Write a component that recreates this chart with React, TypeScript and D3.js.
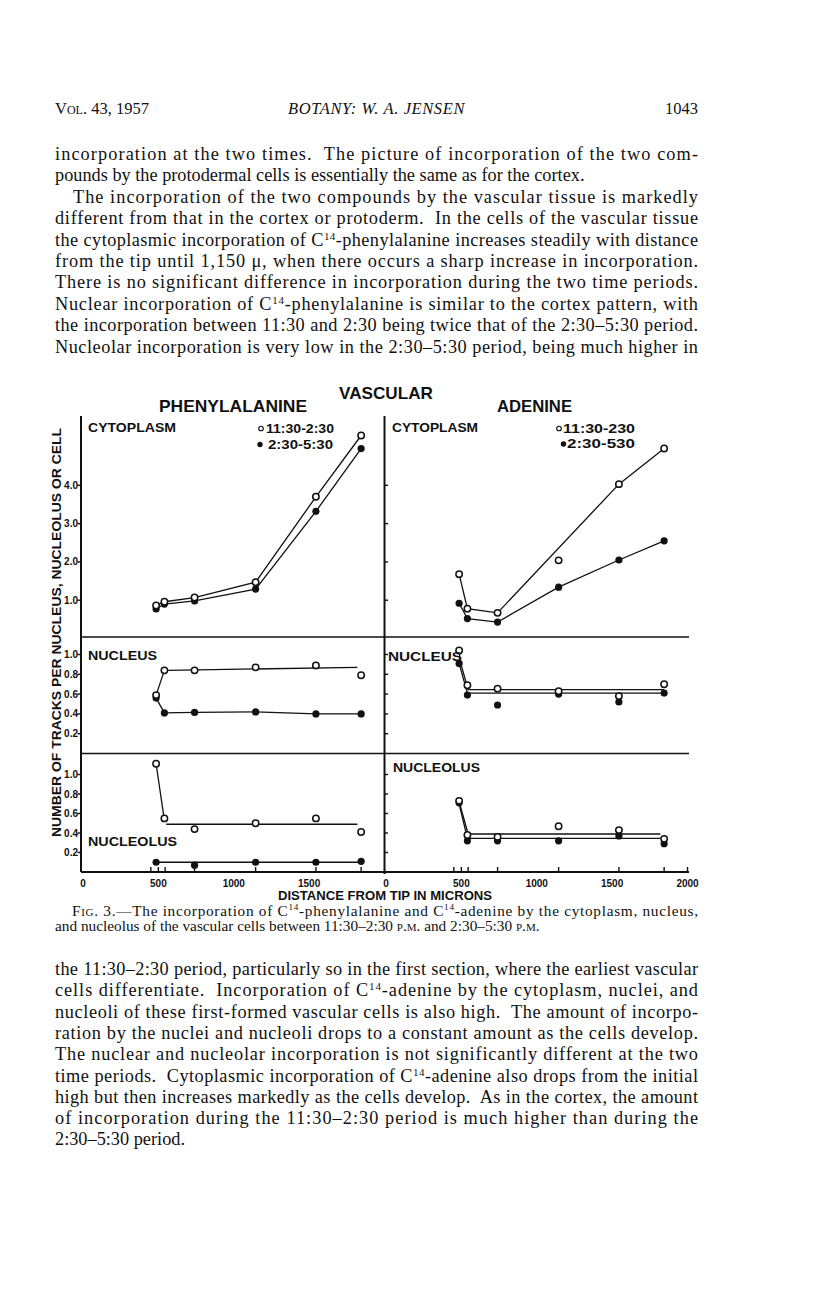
import React from "react";
import * as d3 from "d3";

const W = 816;
const H = 1294;

// sample distances from the tip (microns)
const distances = [485, 540, 740, 1145, 1545, 1845];
const lateNucleolusDist = [485, 740, 1145, 1545, 1845];
const axisTicks = [450, 500, 545, 740, 1145, 1545, 1845];
const xLabelsLeft = [0, 500, 1000, 1500];
const xLabelsRight = [0, 500, 1000, 1500, 2000];
const cytoTicks = [1, 2, 3, 4];
const fracTicks = [0.2, 0.4, 0.6, 0.8, 1.0];

// phenylalanine, 11:30-2:30 (open) and 2:30-5:30 (filled)
const pheCytoEarly = [0.86, 0.96, 1.07, 1.47, 3.7, 5.3];
const pheCytoLate = [0.77, 0.9, 0.98, 1.29, 3.32, 4.96];
const pheNucEarly = [0.59, 0.84, 0.84, 0.87, 0.89, 0.79];
const pheNucLate = [0.56, 0.41, 0.415, 0.42, 0.4, 0.4];
const pheNuclEarly = [1.11, 0.55, 0.44, 0.5, 0.55, 0.41];
const pheNuclLate = [0.1, 0.07, 0.1, 0.1, 0.11];

// adenine
const adeCytoEarly = [1.68, 0.78, 0.67, 2.04, 4.03, 4.96];
const adeCytoLate = [0.92, 0.52, 0.43, 1.34, 2.05, 2.55];
const adeNucEarly = [1.04, 0.69, 0.655, 0.63, 0.58, 0.7];
const adeNucLate = [0.91, 0.59, 0.49, 0.6, 0.52, 0.61];
const adeNuclEarly = [0.73, 0.38, 0.36, 0.47, 0.43, 0.34];
const adeNuclLate = [0.71, 0.32, 0.32, 0.32, 0.37, 0.29];

// hand-drawn lines that do not go through every point
const pheNucEarlyLine = [[[485, 0.59], [540, 0.84]], [[565, 0.84], [1820, 0.87]]];
const pheNuclEarlyLine = [[[485, 1.11], [535, 0.58]], [[552, 0.49], [1820, 0.49]]];
const pheNuclLateLine = [[[485, 0.1], [1845, 0.1]]];
const adeCytoEarlyLine = [[[485, 1.68], [540, 0.78], [740, 0.67], [1545, 4.03], [1845, 4.96]]];
const adeNucEarlyLine = [[[485, 1.04], [492, 0.93], [545, 0.645], [1845, 0.645]]];
const adeNucLateLine = [[[485, 0.91], [540, 0.61], [1845, 0.61]]];
const adeNuclEarlyLine = [[[485, 0.72], [545, 0.39], [1820, 0.39]]];
const adeNuclLateLine = [[[485, 0.7], [540, 0.345], [1820, 0.345]]];

const zip = (xs, ys) => xs.map((x, i) => [x, ys[i]]);

const bodyTop = [
  ["incorporation at the two times.  The picture of incorporation of the two com-", true, 0],
  ["pounds by the protodermal cells is essentially the same as for the cortex.", false, 0],
  ["The incorporation of the two compounds by the vascular tissue is markedly", true, 18],
  ["different from that in the cortex or protoderm.  In the cells of the vascular tissue", true, 0],
  ["the cytoplasmic incorporation of C^14-phenylalanine increases steadily with distance", true, 0],
  ["from the tip until 1,150 \u03bc, when there occurs a sharp increase in incorporation.", true, 0],
  ["There is no significant difference in incorporation during the two time periods.", true, 0],
  ["Nuclear incorporation of C^14-phenylalanine is similar to the cortex pattern, with", true, 0],
  ["the incorporation between 11:30 and 2:30 being twice that of the 2:30\u20135:30 period.", true, 0],
  ["Nucleolar incorporation is very low in the 2:30\u20135:30 period, being much higher in", true, 0],
];

const bodyBottom = [
  ["the 11:30\u20132:30 period, particularly so in the first section, where the earliest vascular", true, 0],
  ["cells differentiate.  Incorporation of C^14-adenine by the cytoplasm, nuclei, and", true, 0],
  ["nucleoli of these first-formed vascular cells is also high.  The amount of incorpo-", true, 0],
  ["ration by the nuclei and nucleoli drops to a constant amount as the cells develop.", true, 0],
  ["The nuclear and nucleolar incorporation is not significantly different at the two", true, 0],
  ["time periods.  Cytoplasmic incorporation of C^14-adenine also drops from the initial", true, 0],
  ["high but then increases markedly as the cells develop.  As in the cortex, the amount", true, 0],
  ["of incorporation during the 11:30\u20132:30 period is much higher than during the", true, 0],
  ["2:30\u20135:30 period.", false, 0],
];

const caption = [
  ["{Fig.} 3.\u2014The incorporation of C^14-phenylalanine and C^14-adenine by the cytoplasm, nucleus,", true, 17],
  ["and nucleolus of the vascular cells between 11:30\u20132:30 {p.m.} and 2:30\u20135:30 {p.m.}", false, 0],
];

const TEXT_L = 55;
const TEXT_R = 698;

// turns "^14" into a superscript and "{..}" into small caps
function rich(str, k) {
  const out = [];
  const re = /(\^14|\{[^}]+\})/g;
  let last = 0;
  let m;
  let n = 0;
  let pendingDy = 0;
  while ((m = re.exec(str))) {
    if (m.index > last) {
      out.push(<tspan key={k + n++} dy={pendingDy || undefined}>{str.slice(last, m.index)}</tspan>);
      pendingDy = 0;
    }
    if (m[0] === "^14") {
      out.push(<tspan key={k + n++} dy={-6} fontSize="0.6em">14</tspan>);
      pendingDy = 6;
    } else {
      out.push(
        <tspan key={k + n++} dy={pendingDy || undefined} style={{ fontVariant: "small-caps" }}>
          {m[0].slice(1, -1)}
        </tspan>
      );
      pendingDy = 0;
    }
    last = m.index + m[0].length;
  }
  if (last < str.length) out.push(<tspan key={k + n++} dy={pendingDy || undefined}>{str.slice(last)}</tspan>);
  return out;
}

function Paragraph({ lines, y0, step, size }) {
  return (
    <g fontFamily="'Liberation Serif', serif" fontSize={size} fill="#111">
      {lines.map(([t, justify, indent], i) => (
        <text
          key={i}
          x={TEXT_L + indent}
          y={y0 + i * step}
          textLength={justify ? TEXT_R - TEXT_L - indent : undefined}
          lengthAdjust="spacing"
          xmlSpace="preserve"
        >
          {rich(t, "l" + i)}
        </text>
      ))}
    </g>
  );
}

const cols = [
  { x: d3.scaleLinear().domain([0, 2000]).range([83, 384.5]), labels: xLabelsLeft },
  { x: d3.scaleLinear().domain([0, 2000]).range([386, 687.5]), labels: xLabelsRight },
];
const rows = [
  d3.scaleLinear().domain([0, 5]).range([638.5, 447]),
  d3.scaleLinear().domain([0, 1]).range([753.5, 654.5]),
  d3.scaleLinear().domain([0, 1]).range([872, 774.5]),
];

const panels = [
  { col: 0, row: 0, open: zip(distances, pheCytoEarly), filled: zip(distances, pheCytoLate),
    openLines: [zip(distances, pheCytoEarly)], filledLines: [zip(distances, pheCytoLate)] },
  { col: 0, row: 1, open: zip(distances, pheNucEarly), filled: zip(distances, pheNucLate),
    openLines: pheNucEarlyLine, filledLines: [zip(distances, pheNucLate)] },
  { col: 0, row: 2, open: zip(distances, pheNuclEarly), filled: zip(lateNucleolusDist, pheNuclLate),
    openLines: pheNuclEarlyLine, filledLines: pheNuclLateLine },
  { col: 1, row: 0, open: zip(distances, adeCytoEarly), filled: zip(distances, adeCytoLate),
    openLines: adeCytoEarlyLine, filledLines: [zip(distances, adeCytoLate)] },
  { col: 1, row: 1, open: zip(distances, adeNucEarly), filled: zip(distances, adeNucLate),
    openLines: adeNucEarlyLine, filledLines: adeNucLateLine },
  { col: 1, row: 2, open: zip(distances, adeNuclEarly), filled: zip(distances, adeNuclLate),
    openLines: adeNuclEarlyLine, filledLines: adeNuclLateLine },
];

const AX_L = 81;
const AX_MID = 384.5;
const AX_R = 689;
const AX_T = 416;
const ROW_1 = 637;
const ROW_2 = 753.5;
const AX_B = 872;

const sans = "'Liberation Sans', Arial, sans-serif";

export default function App() {
  return (
    <svg width={W} height={H} style={{ position: "absolute", left: 0, top: 0, background: "#fff" }}>
      <rect width={W} height={H} fill="#fff" />

      {/* running head */}
      <g fontFamily="'Liberation Serif', serif" fontSize={16.5} fill="#111">
        <text x={TEXT_L} y={114} style={{ fontVariant: "small-caps" }}>Vol. 43, 1957</text>
        <text x={(TEXT_L + TEXT_R) / 2} y={114} textAnchor="middle" fontStyle="italic" letterSpacing={0.6}>
          BOTANY: W. A. JENSEN
        </text>
        <text x={TEXT_R} y={114} textAnchor="end">1043</text>
      </g>

      <Paragraph lines={bodyTop} y0={160} step={21.4} size={18.3} />

      {/* chart frame */}
      <g stroke="#111" fill="none">
        <line x1={AX_L} y1={AX_T} x2={AX_L} y2={AX_B} strokeWidth={2} />
        <line x1={AX_MID} y1={AX_T} x2={AX_MID} y2={AX_B + 2} strokeWidth={2} />
        <line x1={AX_L} y1={AX_B} x2={AX_R} y2={AX_B} strokeWidth={2} />
        <line x1={AX_L} y1={ROW_1} x2={AX_R} y2={ROW_1} strokeWidth={1.4} />
        <line x1={AX_L} y1={ROW_2} x2={AX_R} y2={ROW_2} strokeWidth={1.4} />
      </g>

      {/* y ticks */}
      {[0, 1].map((c) => {
        const x0 = c === 0 ? AX_L : AX_MID;
        const dx = c === 0 ? -3.5 : 3.5;
        return (
          <g key={"yt" + c} stroke="#111" strokeWidth={1.4}>
            {cytoTicks.map((t) => (
              <line key={"c" + t} x1={x0} x2={x0 + dx} y1={rows[0](t)} y2={rows[0](t)} />
            ))}
            {fracTicks.map((t) => (
              <line key={"n" + t} x1={x0} x2={x0 + dx} y1={rows[1](t)} y2={rows[1](t)} />
            ))}
            {fracTicks.map((t) => (
              <line key={"o" + t} x1={x0} x2={x0 + dx} y1={rows[2](t)} y2={rows[2](t)} />
            ))}
          </g>
        );
      })}
      <g fontFamily={sans} fontWeight="bold" fontSize={10} fill="#111" textAnchor="end">
        {cytoTicks.map((t) => (
          <text key={"cl" + t} x={AX_L - 3} y={rows[0](t) + 3.5}>{d3.format(".1f")(t)}</text>
        ))}
        {fracTicks.map((t) => (
          <text key={"nl" + t} x={AX_L - 3} y={rows[1](t) + 3.5}>{d3.format(".1f")(t)}</text>
        ))}
        {fracTicks.map((t) => (
          <text key={"ol" + t} x={AX_L - 3} y={rows[2](t) + 3.5}>{d3.format(".1f")(t)}</text>
        ))}
      </g>

      {/* x ticks and labels */}
      {cols.map((c, ci) => (
        <g key={"xt" + ci}>
          <g stroke="#111" strokeWidth={1.4}>
            {(ci === 1 ? [...axisTicks, 2000] : axisTicks).map((t) => (
              <line key={t} x1={c.x(t)} x2={c.x(t)} y1={AX_B} y2={AX_B - 5} />
            ))}
          </g>
          <g fontFamily={sans} fontWeight="bold" fontSize={10} fill="#111" textAnchor="middle">
            {c.labels.map((t) => (
              <text key={t} x={c.x(t)} y={887}>{t}</text>
            ))}
          </g>
        </g>
      ))}

      {/* data */}
      {panels.map((p, i) => {
        const x = cols[p.col].x;
        const y = rows[p.row];
        const line = d3.line().x((d) => x(d[0])).y((d) => y(d[1]));
        return (
          <g key={"p" + i}>
            <g fill="none" stroke="#111" strokeWidth={1.3}>
              {p.openLines.map((l, j) => <path key={"ol" + j} d={line(l)} />)}
              {p.filledLines.map((l, j) => <path key={"fl" + j} d={line(l)} />)}
            </g>
            {p.filled.map((d, j) => (
              <circle key={"f" + j} cx={x(d[0])} cy={y(d[1])} r={3.6} fill="#111" />
            ))}
            {p.open.map((d, j) => (
              <circle key={"o" + j} cx={x(d[0])} cy={y(d[1])} r={3.2} fill="#fff" stroke="#111" strokeWidth={1.5} />
            ))}
          </g>
        );
      })}

      {/* chart lettering */}
      <g fontFamily={sans} fontWeight="bold" fill="#111">
        <text x={339} y={399} fontSize={17} textLength={94} lengthAdjust="spacingAndGlyphs">VASCULAR</text>
        <text x={159} y={412} fontSize={17} textLength={148} lengthAdjust="spacingAndGlyphs">PHENYLALANINE</text>
        <text x={497} y={412} fontSize={17} textLength={75} lengthAdjust="spacingAndGlyphs">ADENINE</text>

        <g fontSize={12.5}>
          <text x={88} y={432} textLength={88} lengthAdjust="spacingAndGlyphs">CYTOPLASM</text>
          <text x={392} y={432} textLength={86} lengthAdjust="spacingAndGlyphs">CYTOPLASM</text>
          <text x={88} y={660} textLength={69} lengthAdjust="spacingAndGlyphs">NUCLEUS</text>
          <text x={388} y={661} textLength={74} lengthAdjust="spacingAndGlyphs">NUCLEUS</text>
          <text x={88} y={846} textLength={89} lengthAdjust="spacingAndGlyphs">NUCLEOLUS</text>
          <text x={393} y={772} textLength={87} lengthAdjust="spacingAndGlyphs">NUCLEOLUS</text>
        </g>

        <g fontSize={12.5}>
          <text x={266} y={433} textLength={68} lengthAdjust="spacingAndGlyphs">11:30-2:30</text>
          <text x={268} y={449} textLength={65} lengthAdjust="spacingAndGlyphs">2:30-5:30</text>
          <text x={563} y={433} textLength={72} lengthAdjust="spacingAndGlyphs">11:30-230</text>
          <text x={567} y={448} textLength={68} lengthAdjust="spacingAndGlyphs">2:30-530</text>
        </g>

        <text
          transform="translate(61,632.5) rotate(-90)"
          textAnchor="middle"
          fontSize={12.5}
          textLength={409}
          lengthAdjust="spacingAndGlyphs"
        >
          NUMBER OF TRACKS PER NUCLEUS, NUCLEOLUS OR CELL
        </text>
        <text x={278} y={900} fontSize={12.5} textLength={214} lengthAdjust="spacingAndGlyphs">
          DISTANCE FROM TIP IN MICRONS
        </text>
      </g>
      <g>
        <circle cx={261} cy={428.5} r={2.3} fill="#fff" stroke="#111" strokeWidth={1.1} />
        <circle cx={260} cy={444.5} r={2.7} fill="#111" />
        <circle cx={559} cy={428.5} r={2.3} fill="#fff" stroke="#111" strokeWidth={1.1} />
        <circle cx={563.5} cy={444} r={2.7} fill="#111" />
      </g>

      <Paragraph lines={caption} y0={916} step={14.5} size={15.3} />
      <Paragraph lines={bodyBottom} y0={975} step={21.3} size={18.3} />
    </svg>
  );
}
